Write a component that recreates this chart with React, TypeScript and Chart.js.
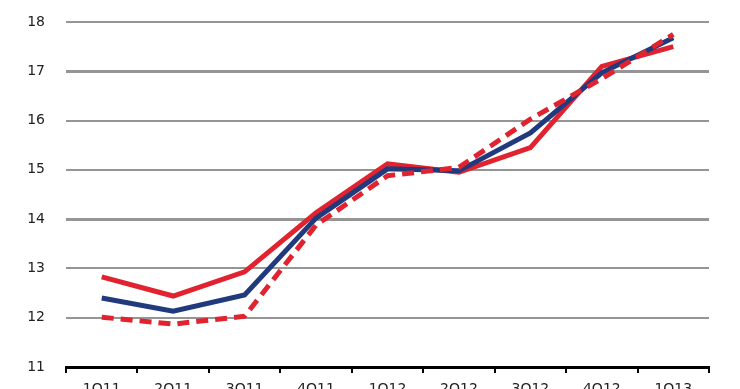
import React, { useEffect, useRef } from "react";
import { Chart, registerables } from "chart.js";

Chart.register(...registerables);

const categories = ["1Q11", "2Q11", "3Q11", "4Q11", "1Q12", "2Q12", "3Q12", "4Q12", "1Q13"];
const redSolid = [12.83, 12.44, 12.93, 14.13, 15.12, 14.95, 15.45, 17.1, 17.5];
const blueSolid = [12.4, 12.13, 12.46, 14.02, 15.02, 14.98, 15.75, 16.97, 17.68];
const redDashed = [12.01, 11.87, 12.03, 13.88, 14.88, 15.05, 16.03, 16.85, 17.75];
const yTicks = [11, 12, 13, 14, 15, 16, 17, 18];

const RED = "#E1232F";
const BLUE = "#213A7E";

export default function App() {
  const ref = useRef<HTMLCanvasElement | null>(null);
  useEffect(() => {
    if (!ref.current) return;
    const chart = new Chart(ref.current, {
      type: "line",
      data: {
        labels: categories,
        datasets: [
          { data: redDashed, borderColor: RED, borderWidth: 5, borderDash: [12, 7], pointRadius: 0, tension: 0, fill: false },
          { data: blueSolid, borderColor: BLUE, borderWidth: 5, pointRadius: 0, tension: 0, fill: false },
          { data: redSolid, borderColor: RED, borderWidth: 5, pointRadius: 0, tension: 0, fill: false },
        ],
      },
      options: {
        responsive: false,
        animation: false,
        layout: { padding: { top: 22, right: 31, left: 0, bottom: 0 } },
        plugins: { legend: { display: false }, tooltip: { enabled: false } },
        scales: {
          x: {
            type: "category",
            offset: true,
            grid: { offset: true, drawOnChartArea: false, drawTicks: true, tickLength: 6, color: "#000", lineWidth: 2 },
            border: { display: true, color: "#000", width: 3 },
            ticks: { color: "#222", padding: 8, font: { family: "DejaVu Sans", size: 14 }, maxRotation: 0, autoSkip: false },
            afterFit: (s: any) => { s.height = 33; },
          },
          y: {
            min: 11,
            max: 18,
            afterBuildTicks: (s: any) => { s.ticks = yTicks.map((v) => ({ value: v })); },
            grid: {
              drawTicks: false,
              color: (ctx: any) => (ctx.tick && ctx.tick.value === 11 ? "rgba(0,0,0,0)" : "#959595"),
              lineWidth: (ctx: any) => ctx.tick && (ctx.tick.value === 17 || ctx.tick.value === 14) ? 3 : 2,
            },
            border: { display: false },
            ticks: { color: "#222", padding: 21, font: { family: "DejaVu Sans", size: 14 } },
            afterFit: (s: any) => {
              s.width = 66;
              s.paddingTop = 0;
              s.paddingBottom = 0;
            },
          },
        },
      },
    });
    return () => chart.destroy();
  }, []);
  return (
    <div style={{ position: "absolute", left: 0, top: 0, width: 740, height: 389, overflow: "hidden", background: "#fff" }}>
      <canvas ref={ref} width={740} height={400} style={{ display: "block" }} />
    </div>
  );
}
